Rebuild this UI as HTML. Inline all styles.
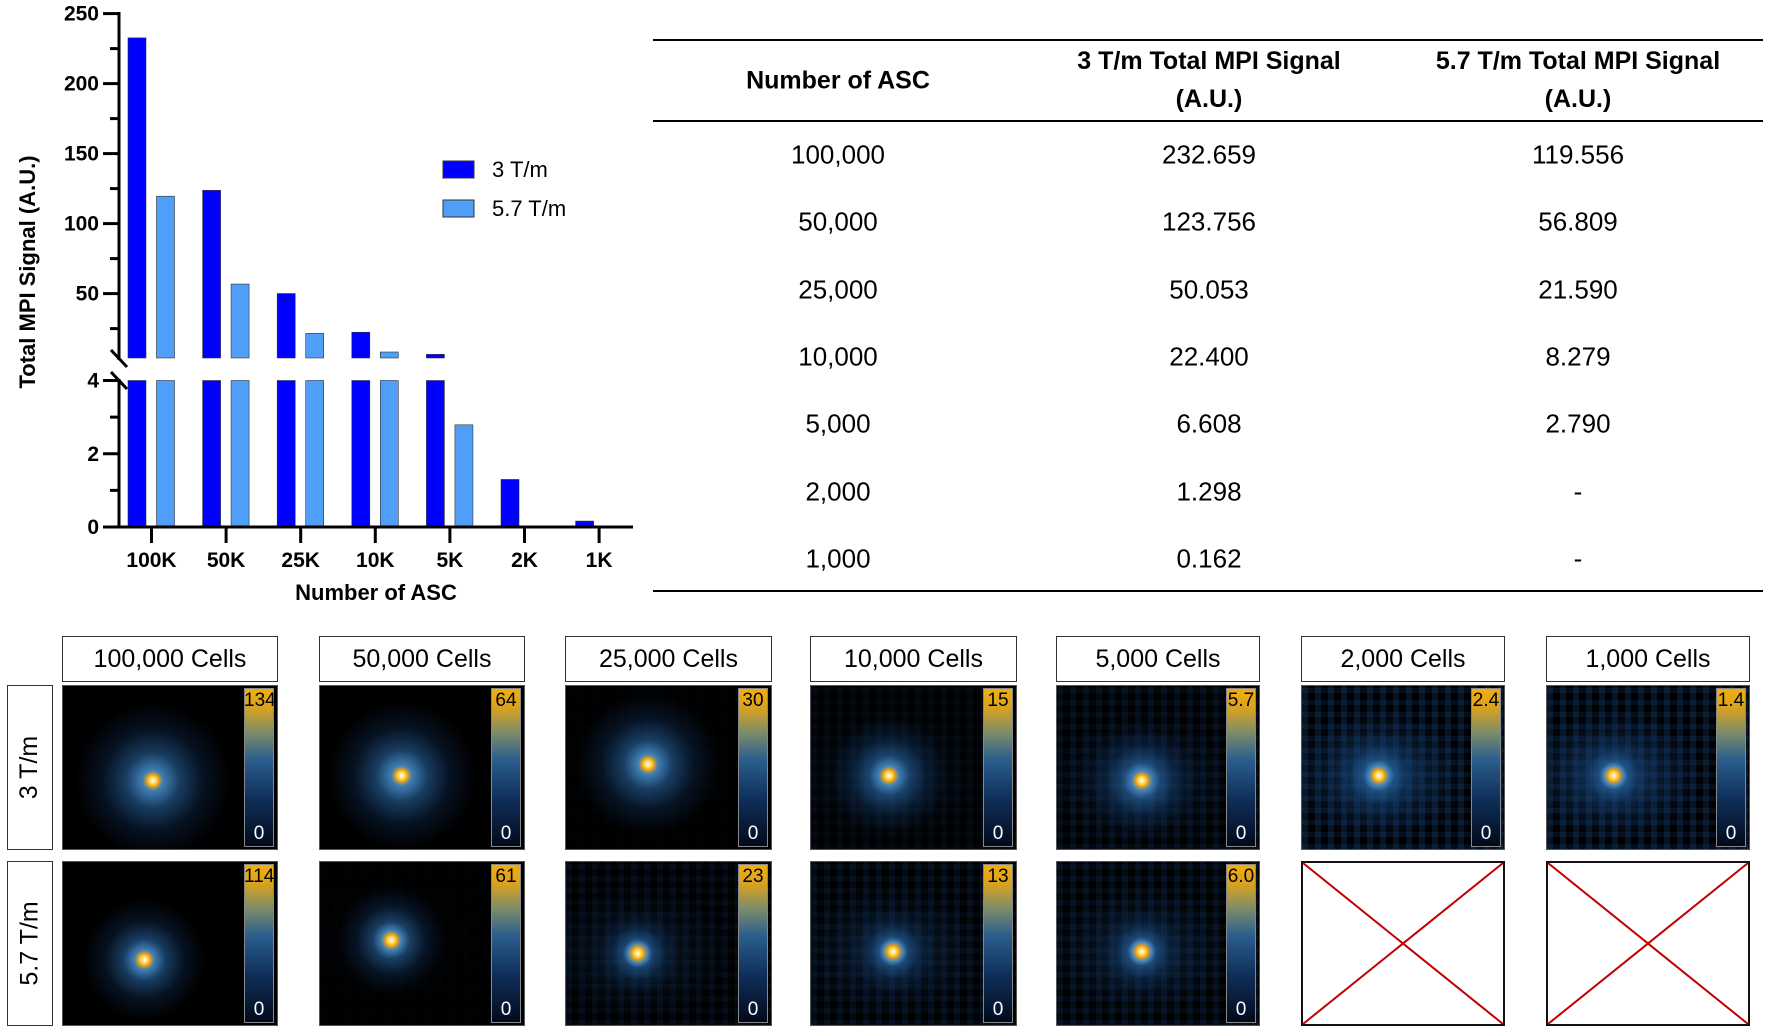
<!DOCTYPE html>
<html><head><meta charset="utf-8">
<style>
body{margin:0;background:#fff;font-family:"Liberation Sans",sans-serif;}
#root{position:relative;width:1772px;height:1036px;overflow:hidden;background:#fff;}
.t{position:absolute;transform:translate(-50%,-50%);white-space:nowrap;color:#000;}
.hl{position:absolute;height:2px;background:#000;}
.lbl{position:absolute;border:1.5px solid #333;box-sizing:border-box;display:flex;align-items:center;justify-content:center;font-size:25px;background:#fff;}
.img{position:absolute;background:#000;overflow:hidden;border:1px solid #555;box-sizing:border-box;}
.cb{position:absolute;top:2px;bottom:2px;width:30px;right:3px;background:linear-gradient(to top,#020a1c 0%,#0f2f5a 30%,#2b5e8e 55%,#7c8c6a 72%,#d9a21f 88%,#f0ae10 100%);border:1px solid #888;box-sizing:border-box;}
.cbt{position:absolute;right:0;width:30px;text-align:center;font-size:19px;}
</style></head><body>
<div id="root">
<svg id="chart" width="660" height="610" style="position:absolute;left:0;top:0" font-family="Liberation Sans, sans-serif"></svg>

<div>
<div class="hl" style="left:653px;top:39px;width:1110px"></div>
<div class="hl" style="left:653px;top:120px;width:1110px"></div>
<div class="hl" style="left:653px;top:590px;width:1110px"></div>
<div class="t" style="left:838px;top:81px;font-size:25px;font-weight:bold">Number of ASC</div>
<div class="t" style="left:1209px;top:80px;font-size:25px;font-weight:bold;text-align:center;line-height:38px">3 T/m Total MPI Signal<br>(A.U.)</div>
<div class="t" style="left:1578px;top:80px;font-size:25px;font-weight:bold;text-align:center;line-height:38px">5.7 T/m Total MPI Signal<br>(A.U.)</div>
<div id="rows"></div>
</div>

<div id="panels"></div>
<div class="lbl" style="left:7px;top:685px;width:46px;height:165px"><span style="transform:rotate(-90deg);white-space:nowrap">3 T/m</span></div>
<div class="lbl" style="left:7px;top:861px;width:46px;height:165px"><span style="transform:rotate(-90deg);white-space:nowrap">5.7 T/m</span></div>
</div>

<script>
// ---- chart data ----
const categories = ["100K","50K","25K","10K","5K","2K","1K"];
const series3 = [232.659,123.756,50.053,22.4,6.608,1.298,0.162];
const series57 = [119.556,56.809,21.59,8.279,2.79,null,null];
const upperTicks = [50,100,150,200,250];
const lowerTicks = [0,2,4];

const NS="http://www.w3.org/2000/svg";
const svg=document.getElementById('chart');
function mk(tag,attrs,parent){const e=document.createElementNS(NS,tag);for(const k in attrs)e.setAttribute(k,attrs[k]);(parent||svg).appendChild(e);return e;}
const axX=119, xStart=151.5, xStep=74.6;
function xPos(i){return xStart+i*xStep;}
function yLow(v){return 527-(v/4)*(527-380.5);}
function yUp(v){return 358-(v-4)/(250-4)*(358-13.6);}
const barW=18;

categories.forEach((c,i)=>{
  [[series3,'#0000ff',-14.5,'3'],[series57,'#4f9ff8',14,'57']].forEach(([arr,col,off,nm])=>{
    const v=arr[i]; if(v==null) return;
    const x=xPos(i)+off-barW/2;
    const top=Math.min(v,4);
    const r=mk('rect',{x:x,y:yLow(top),width:barW,height:yLow(0)-yLow(top),fill:col,stroke:'#333','stroke-width':0.6});
    
    
    if(v>4){
      const r2=mk('rect',{x:x,y:yUp(v),width:barW,height:yUp(4)-yUp(v),fill:col,stroke:'#333','stroke-width':0.6});
      
      
    }
  });
  const tk=mk('line',{x1:xPos(i),x2:xPos(i),y1:527,y2:543,stroke:'#000','stroke-width':3});
  
  
  const tl=mk('text',{x:xPos(i),y:567,'text-anchor':'middle','font-size':21,'font-weight':'bold'});
  tl.textContent=c;
  
  
});
// axes
let a=mk('line',{x1:axX,x2:axX,y1:12,y2:360,stroke:'#000','stroke-width':3});

a=mk('line',{x1:axX,x2:axX,y1:379,y2:528.5,stroke:'#000','stroke-width':3});

a=mk('line',{x1:103,x2:633,y1:527,y2:527,stroke:'#000','stroke-width':3});

a=mk('path',{d:'M111,350 L127,367 M111,372 L127,389',stroke:'#000','stroke-width':3,fill:'none'});

for(let v=25; v<=250; v+=25){
  const major=upperTicks.includes(v);
  const l=mk('line',{x1:major?103:110,x2:axX,y1:yUp(v),y2:yUp(v),stroke:'#000','stroke-width':3});
  
}
upperTicks.forEach(v=>{const t=mk('text',{x:99,y:yUp(v)+7,'text-anchor':'end','font-size':21,'font-weight':'bold'});t.textContent=v;});
for(let v=0; v<=4; v+=1){
  const major=lowerTicks.includes(v);
  const l=mk('line',{x1:major?103:110,x2:axX,y1:yLow(v),y2:yLow(v),stroke:'#000','stroke-width':3});
  
}
lowerTicks.forEach(v=>{const t=mk('text',{x:99,y:yLow(v)+7,'text-anchor':'end','font-size':21,'font-weight':'bold'});t.textContent=v;});
let tt=mk('text',{x:376,y:600,'text-anchor':'middle','font-size':22,'font-weight':'bold'});tt.textContent='Number of ASC';

tt=mk('text',{x:0,y:0,'text-anchor':'middle','font-size':22,'font-weight':'bold',transform:'translate(35,272) rotate(-90)'});tt.textContent='Total MPI Signal (A.U.)';

[['3 T/m','#0000ff',161],['5.7 T/m','#4f9ff8',200]].forEach(([lab,col,y])=>{
  const r=mk('rect',{x:443,y:y,width:31,height:17,fill:col,stroke:'#333','stroke-width':1});
  
  const t=mk('text',{x:492,y:y+16,'font-size':22});t.textContent=lab;
  
});

// ---- table ----
const tabCells=["100,000","50,000","25,000","10,000","5,000","2,000","1,000"];
const tab3=["232.659","123.756","50.053","22.400","6.608","1.298","0.162"];
const tab57=["119.556","56.809","21.590","8.279","2.790","-","-"];
const rowsEl=document.getElementById('rows');
tabCells.forEach((c,i)=>{
  const y=155+i*67.3;
  [[838,c],[1209,tab3[i]],[1578,tab57[i]]].forEach(([x,txt])=>{
    const d=document.createElement('div');d.className='t';
    d.style.left=x+'px';d.style.top=y+'px';d.style.fontSize='26px';
    d.textContent=txt;
    
    
    rowsEl.appendChild(d);
  });
});

// ---- image panels ----
const panelTitles=["100,000 Cells","50,000 Cells","25,000 Cells","10,000 Cells","5,000 Cells","2,000 Cells","1,000 Cells"];
const max3=["134","64","30","15","5.7","2.4","1.4"];
const max57=["114","61","23","13","6.0",null,null];
const px=[62,319,565,810,1056,1301,1546], pw=[216,206,207,207,204,204,204];
// [cx, cy, haloRadiusFrac, noise]
const spot3=[[0.42,0.58,0.36,0],[0.40,0.55,0.36,0],[0.40,0.48,0.34,0.05],[0.38,0.55,0.28,0.25],[0.42,0.58,0.26,0.45],[0.38,0.55,0.22,0.8],[0.33,0.55,0.2,0.8]];
const spot57=[[0.38,0.6,0.28,0],[0.35,0.48,0.26,0.05],[0.35,0.56,0.2,0.35],[0.40,0.55,0.2,0.45],[0.42,0.55,0.2,0.5]];
const panels=document.getElementById('panels');
function makeImg(x,y,w,h,sp,maxv,name){
  const d=document.createElement('div');d.className='img';
  d.style.left=x+'px';d.style.top=y+'px';d.style.width=w+'px';d.style.height=h+'px';
  const cx=sp[0]*100, cy=sp[1]*100, r=sp[2]*w, n=sp[3];
  let bg=`radial-gradient(circle at ${cx}% ${cy}%, #fff 0px, #ffd040 4px, #e8a018 6px, rgba(70,140,200,0.9) 10px, rgba(40,100,160,0.6) ${r*0.35}px, rgba(20,60,110,0.3) ${r*0.65}px, rgba(0,0,0,0) ${r}px)`;
  if(n>0){
    bg+=`, radial-gradient(ellipse 45% 40% at ${cx}% ${cy}%, rgba(30,85,140,${n*0.8}) 0%, rgba(20,60,110,${n*0.4}) 60%, rgba(0,0,0,0) 100%)`;
    bg+=`, repeating-linear-gradient(90deg, rgba(25,70,125,${n*0.35}) 0 6px, rgba(0,0,0,0) 6px 13px)`;
    bg+=`, repeating-linear-gradient(0deg, rgba(25,70,125,${n*0.25}) 0 5px, rgba(0,0,0,0) 5px 12px)`;
  }
  d.style.background=bg+', #000';
  
  
  const cb=document.createElement('div');cb.className='cb';
  
  
  d.appendChild(cb);
  const t1=document.createElement('div');t1.className='cbt';t1.style.top='4px';t1.style.right='3px';t1.textContent=maxv;t1.style.color='#000';
  
  
  d.appendChild(t1);
  const t0=document.createElement('div');t0.className='cbt';t0.style.bottom='4px';t0.style.right='3px';t0.textContent='0';t0.style.color='#fff';
  
  
  d.appendChild(t0);
  panels.appendChild(d);
}
panelTitles.forEach((t,i)=>{
  const l=document.createElement('div');l.className='lbl';
  l.style.left=px[i]+'px';l.style.top='636px';l.style.width=pw[i]+'px';l.style.height='46px';
  l.textContent=t;
  
  
  panels.appendChild(l);
  makeImg(px[i],685,pw[i],165,spot3[i],max3[i],'mpi-image-3tm');
  if(max57[i]!=null){
    makeImg(px[i],861,pw[i],165,spot57[i],max57[i],'mpi-image-57tm');
  } else {
    const s=document.createElementNS(NS,'svg');
    s.setAttribute('width',pw[i]);s.setAttribute('height',165);
    s.style.position='absolute';s.style.left=px[i]+'px';s.style.top='861px';
    
    
    s.innerHTML=`<rect x="1" y="1" width="${pw[i]-2}" height="163" fill="#fff" stroke="#111" stroke-width="2"/><line x1="2" y1="2" x2="${pw[i]-2}" y2="163" stroke="#c00000" stroke-width="2"/><line x1="${pw[i]-2}" y1="2" x2="2" y2="163" stroke="#c00000" stroke-width="2"/>`;
    panels.appendChild(s);
  }
});
</script>
</body></html>
